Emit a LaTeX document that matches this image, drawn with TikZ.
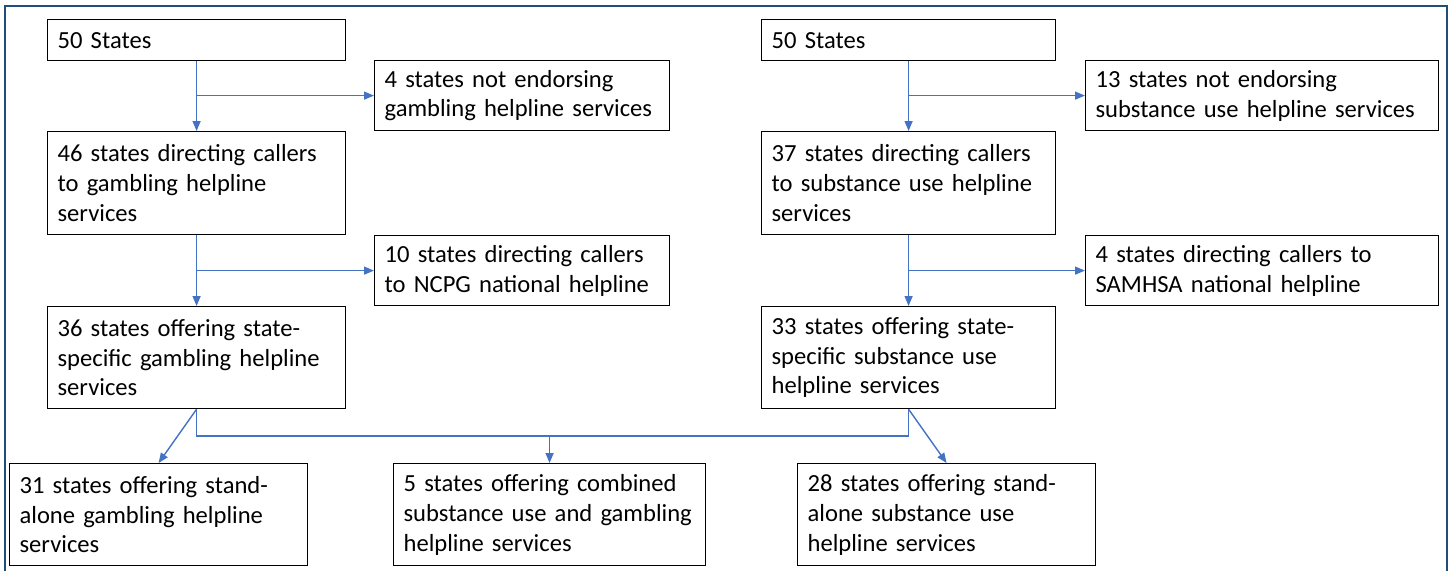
\documentclass[tikz,border=0pt]{standalone}
\usepackage{fontspec}
\setmainfont{Carlito}
\usetikzlibrary{arrows.meta}
\usetikzlibrary{positioning}
\usetikzlibrary{calc}

\definecolor{framecol}{HTML}{1F4E79}
\definecolor{linkcol}{HTML}{4472C4}

\tikzset{
    stage/.style = {draw, line width=0.7pt, anchor=north west, align=left,
                    inner xsep=0.2cm, inner ysep=0pt,
                    font=\fontsize{14pt}{17pt}\selectfont},
    link/.style  = {draw=linkcol, line width=0.8pt},
    flow/.style  = {color=linkcol, line width=0.8pt, -{Triangle[length=0.2cm,width=0.16cm]}}
}

\begin{document}
\begin{tikzpicture}[x=0.02cm, y=-0.02cm]

            \useasboundingbox (0,0) rectangle (1450,571);
            \draw[framecol, line width=1.6pt] (5,575) -- (5,6) -- (1447,6) -- (1447,575);

            % gambling side
            \node[stage, text width=5.56cm, minimum height=0.82cm] (g_0) at (47,19)  {50 States};
            \node[stage, text width=5.5cm,  minimum height=1.4cm]  (g_x) at (374,60) {4 states not endorsing\\gambling helpline services};
            \node[stage, text width=5.56cm, minimum height=2.06cm] (g_1) at (47,131) {46 states directing callers\\to gambling helpline\\services};
            \node[stage, text width=5.5cm,  minimum height=1.4cm]  (g_n) at (374,235) {10 states directing callers\\to NCPG national helpline};
            \node[stage, text width=5.56cm, minimum height=2.04cm] (g_2) at (47,306) {36 states offering state-\\specific gambling helpline\\services};

            % substance use side
            \node[stage, text width=5.48cm, minimum height=0.82cm] (s_0) at (761,19)  {50 States};
            \node[stage, text width=6.66cm, minimum height=1.4cm]  (s_x) at (1085,60) {13 states not endorsing\\substance use helpline services};
            \node[stage, text width=5.48cm, minimum height=2.06cm] (s_1) at (761,131) {37 states directing callers\\to substance use helpline\\services};
            \node[stage, text width=6.66cm, minimum height=1.4cm]  (s_n) at (1085,235) {4 states directing callers to\\SAMHSA national helpline};
            \node[stage, text width=5.48cm, minimum height=2.04cm] (s_2) at (761,306) {33 states offering state-\\specific substance use\\helpline services};

            % outcomes
            \node[stage, text width=5.56cm, minimum height=2.04cm] (o_g) at (9,463)   {31 states offering stand-\\alone gambling helpline\\services};
            \node[stage, text width=5.84cm, minimum height=2.04cm] (o_c) at (393,463) {5 states offering combined\\substance use and gambling\\helpline services};
            \node[stage, text width=5.56cm, minimum height=2.04cm] (o_s) at (797,463) {28 states offering stand-\\alone substance use\\helpline services};

            \coordinate (j_g0) at (g_0.south |- g_x.west);
            \coordinate (j_g1) at (g_1.south |- g_n.west);
            \coordinate (j_s0) at (s_0.south |- s_x.west);
            \coordinate (j_s1) at (s_1.south |- s_n.west);
            \coordinate (j_c)  at ($(o_c.north)+(0,-27)$);

            \draw[link] (g_2.south) |- (j_c) -| (s_2.south);

            \path[flow]
                (g_0) edge (g_1)
                (g_1) edge (g_2)
                (j_g0) edge (g_x.west)
                (j_g1) edge (g_n.west)
                (s_0) edge (s_1)
                (s_1) edge (s_2)
                (j_s0) edge (s_x.west)
                (j_s1) edge (s_n.west)
                (g_2.south) edge (o_g.north)
                (s_2.south) edge (o_s.north)
                (j_c) edge (o_c.north);

        \end{tikzpicture}
\end{document}
